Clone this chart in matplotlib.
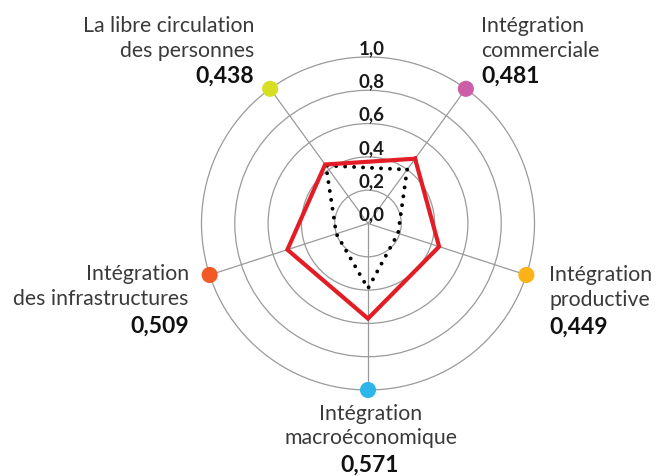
import numpy as np
import matplotlib.pyplot as plt
from matplotlib.patches import Circle

# axes clockwise from the top-right spoke
categories = [
    ["Intégration", "commerciale"],
    ["Intégration", "productive"],
    ["Intégration", "macroéconomique"],
    ["Intégration", "des infrastructures"],
    ["La libre circulation", "des personnes"],
]
scores = [0.481, 0.449, 0.571, 0.509, 0.438]
score_labels = ["0,481", "0,449", "0,571", "0,509", "0,438"]
reference = [0.40, 0.19, 0.39, 0.20, 0.43]
dot_colors = ["#cc5ea8", "#fbb317", "#2db6e9", "#f15a24", "#d7df23"]
rings = [0.2, 0.4, 0.6, 0.8, 1.0]
ring_ticks = [0.0, 0.2, 0.4, 0.6, 0.8, 1.0]
ring_labels = ["0,0", "0,2", "0,4", "0,6", "0,8", "1,0"]

W, H, DPI = 670, 476, 100
R = 166.5            # pixels for 1.0
CX, CY = 368, 223.5  # centre, pixels from top-left

plt.rcParams['font.family'] = ['Lato', 'DejaVu Sans']

fig = plt.figure(figsize=(W / DPI, H / DPI), dpi=DPI)
ax = fig.add_axes([0, 0, 1, 1])
ax.set_xlim(-CX / R, (W - CX) / R)
ax.set_ylim(-(H - CY) / R, CY / R)
ax.axis('off')

angles = np.deg2rad(np.arange(len(scores)) * 72 + 36)
ux, uy = np.sin(angles), np.cos(angles)

# grid
for r in rings:
    ax.add_patch(Circle((0, 0), r, fill=False, ec='#9a9a9a', lw=0.9, zorder=1))
for x, y in zip(ux, uy):
    ax.plot([0, x], [0, y], color='#9a9a9a', lw=0.9, zorder=1)

for v, lab in zip(ring_ticks, ring_labels):
    ax.annotate(lab, (0, v), xytext=(4, 0), textcoords='offset pixels',
                ha='center', va='bottom', fontsize=13.5, fontweight='bold',
                color='#1a1a1a', zorder=5)

# series
ref = np.array(reference + reference[:1])
sc = np.array(scores + scores[:1])
uxc, uyc = np.append(ux, ux[0]), np.append(uy, uy[0])
ax.plot(ref * uxc, ref * uyc, color='black', lw=2.8,
        linestyle=(0, (0.01, 2.3)), dash_capstyle='round', zorder=3)
ax.plot(sc * uxc, sc * uyc, color='#e31d25', lw=3, solid_joinstyle='miter', zorder=4)

ax.scatter(ux, uy, s=135, c=dot_colors, zorder=5, linewidths=0)

# label placement relative to each dot (pixels): dx, baseline of last name line, baseline of value, ha
place = [
    (15.6, 32, 5.6, 'left'),
    (23, -31, -58.7, 'left'),
    (3, -54, -81.7, 'center'),
    (-21, -30, -57.7, 'right'),
    (-16, 32, 5.6, 'right'),
]
line_step = 24.5
for x, y, lines, val, (dx, ny, vy, ha) in zip(ux, uy, categories, score_labels, place):
    n = len(lines)
    for i, line in enumerate(lines):
        ax.annotate(line, (x, y), xytext=(dx, ny + (n - 1 - i) * line_step),
                    textcoords='offset pixels', ha=ha, va='baseline',
                    fontsize=15.3, color='#3a3a3a')
    ax.annotate(val, (x, y), xytext=(dx - (1 if ha == 'center' else 0), vy),
                textcoords='offset pixels', ha=ha, va='baseline',
                fontsize=16.5, fontweight='bold', color='#111111')

fig.savefig('out.png', dpi=DPI)
